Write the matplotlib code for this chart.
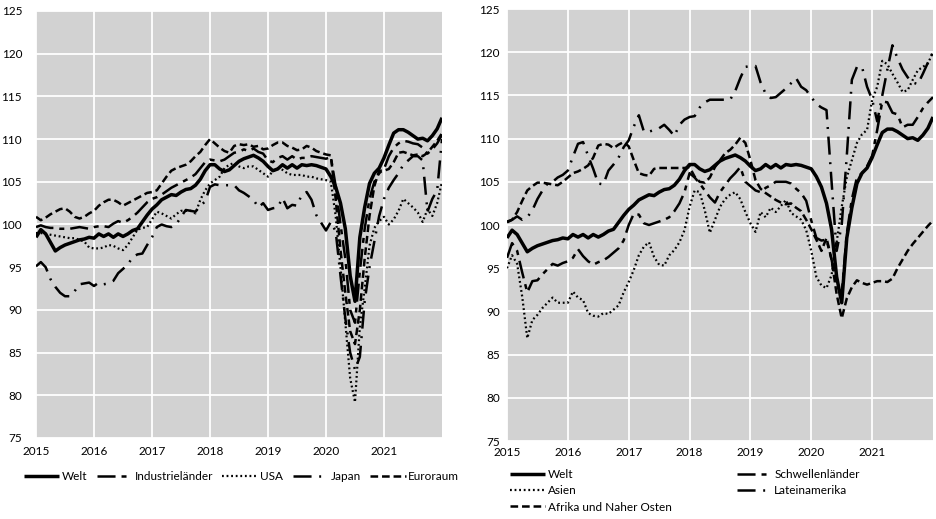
import matplotlib
matplotlib.use("Agg")
import matplotlib.pyplot as plt
import numpy as np

plt.rcParams['font.family'] = ['Lato', 'DejaVu Sans']
plt.rcParams['lines.scale_dashes'] = False

# Monthly, Jan 2015 .. Jan 2022
months = 2015 + np.arange(85) / 12.0
year_ticks = [2015, 2016, 2017, 2018, 2019, 2020, 2021]
y_ticks = [75, 80, 85, 90, 95, 100, 105, 110, 115, 120, 125]

welt = [98.5, 99.4, 98.9, 97.9, 96.9, 97.3, 97.6, 97.8, 98.0, 98.2, 98.3, 98.5,
        98.4, 98.9, 98.6, 98.9, 98.5, 98.9, 98.6, 98.9, 99.3, 99.5, 100.3, 101.1,
        101.8, 102.3, 102.9, 103.2, 103.5, 103.4, 103.8, 104.1, 104.2, 104.6, 105.3, 106.3,
        107.0, 107.0, 106.5, 106.2, 106.4, 106.9, 107.4, 107.7, 107.9, 108.1, 107.8, 107.4,
        106.8, 106.3, 106.5, 107.0, 106.6, 107.0, 106.6, 107.0, 106.9, 107.0, 106.9, 106.7,
        106.5, 105.6, 104.4, 102.5, 99.5, 94.0, 91.0, 98.5, 102.0, 104.8, 106.0, 106.6,
        107.8, 109.3, 110.7, 111.1, 111.1, 110.8, 110.4, 110.0, 110.1, 109.8, 110.4, 111.2,
        112.5]

industrielaender = [99.7, 99.9, 99.7, 99.6, 99.6, 99.5, 99.5, 99.5, 99.6, 99.7, 99.6, 99.5,
                    99.7, 99.8, 99.8, 99.7, 100.1, 100.4, 100.2, 100.5, 100.9, 101.4, 102.0, 102.6,
                    103.0, 103.2, 103.5, 103.9, 104.3, 104.6, 104.9, 105.2, 105.5, 105.9, 106.6, 107.3,
                    107.6, 107.5, 107.4, 107.6, 108.0, 108.4, 108.5, 108.8, 108.6, 108.9, 108.5, 108.3,
                    107.5, 107.3, 107.8, 108.0, 107.6, 108.0, 107.6, 107.8, 107.8, 108.0, 107.9, 107.8,
                    107.7, 107.9, 104.5, 100.0, 96.0, 90.0, 88.5, 94.5, 99.5, 103.0, 105.0, 106.0,
                    106.5, 108.0, 109.0, 109.5, 109.8, 109.7, 109.5, 109.4, 109.0, 108.3, 108.8, 109.5,
                    110.5]

usa = [99.0, 99.0, 98.9, 98.8, 98.7, 98.6, 98.5, 98.4, 98.4, 98.2, 98.0, 97.3,
       97.2, 97.2, 97.3, 97.6, 97.5, 97.2, 97.0, 97.6, 98.5, 99.4, 99.6, 99.7,
       100.6, 101.5, 101.3, 101.0, 100.7, 101.2, 101.6, 101.6, 101.6, 101.3, 102.9, 104.0,
       104.8, 105.2, 105.6, 106.6, 107.0, 107.2, 106.8, 106.6, 106.8, 106.8, 106.4, 106.0,
       105.6, 106.2, 106.6, 106.4, 106.0, 105.8, 105.8, 105.8, 105.6, 105.6, 105.4, 105.3,
       105.2, 105.0, 101.0, 95.0, 88.5, 82.0, 79.2, 88.0, 92.5, 97.5, 99.6, 100.4,
       100.9, 100.0, 100.6, 101.6, 103.0, 102.5, 102.0, 101.4, 100.3, 101.8, 101.0, 102.5,
       105.0]

japan = [95.1, 95.6, 95.0, 93.6, 92.7, 92.0, 91.6, 91.6, 92.2, 93.0, 93.1, 93.2,
         92.8, 93.2, 93.0, 93.1, 93.4, 94.3, 94.8, 95.3, 96.2, 96.5, 96.6, 97.6,
         98.5, 99.7, 100.0, 99.8, 99.7, 100.0, 100.9, 101.7, 101.6, 101.5, 102.2, 102.7,
         104.4, 104.7, 104.6, 104.6, 104.6, 104.6, 104.0, 103.7, 103.3, 102.9, 102.0, 102.5,
         101.7, 101.9, 102.0, 103.1, 101.9, 102.3, 102.2, 103.5, 103.8, 102.9, 101.1, 100.2,
         99.3, 100.3, 99.2, 94.0, 89.0, 85.0, 83.0, 84.5, 91.0, 95.0, 98.0, 101.0,
         103.0, 104.3, 105.2, 106.0, 107.0, 107.5, 108.0, 108.0, 107.5, 101.5, 103.0, 104.0,
         110.0]

euroraum = [100.9, 100.5, 100.8, 101.2, 101.5, 101.8, 101.9, 101.5, 100.9, 100.7, 100.9, 101.3,
            101.6, 102.2, 102.6, 102.9, 102.9, 102.6, 102.2, 102.5, 102.8, 103.1, 103.4, 103.7,
            103.8, 104.0, 104.8, 105.6, 106.3, 106.6, 106.8, 107.0, 107.4, 108.0, 108.5, 109.3,
            110.0, 109.5, 109.0, 108.6, 108.4, 109.2, 109.4, 109.3, 109.4, 109.1, 109.2, 108.8,
            108.9, 109.3, 109.6, 109.6, 109.2, 109.0, 108.7, 108.8, 109.2, 109.0, 108.6, 108.4,
            108.2, 108.1, 103.0, 97.0, 92.0, 87.5, 86.0, 90.0, 96.0, 101.0, 104.5, 106.3,
            106.3, 106.5, 107.3, 108.4, 108.5, 108.3, 108.1, 108.2, 108.0, 108.4, 109.1, 109.8,
            110.7]

schwellenlaender = [96.2, 97.9, 97.0, 94.5, 92.2, 93.5, 93.6, 94.3, 94.9, 95.5, 95.3, 95.6,
                    95.8, 96.2, 97.2, 96.4, 95.8, 95.4, 95.7, 95.9, 96.3, 96.8, 97.3, 98.2,
                    100.0, 101.3, 101.2, 100.2, 100.0, 100.2, 100.4, 100.6, 100.9, 101.6, 102.5, 103.8,
                    106.0, 105.5, 104.8, 104.0, 103.2, 102.6, 103.8, 104.6, 105.4, 106.0, 106.7, 105.0,
                    104.5, 104.0, 103.8, 104.3, 104.6, 105.0, 105.0, 105.0, 104.8, 104.2, 103.7, 102.8,
                    100.5, 98.5, 98.2, 98.3, 96.0, 93.0, 92.0, 99.0, 103.0, 105.5, 106.0, 106.8,
                    108.0, 111.0, 114.3, 114.2, 113.0, 112.8, 111.3, 111.6, 111.6, 112.5, 113.5, 114.2,
                    114.8]

asien = [95.0, 96.5, 95.5, 91.7, 86.9, 89.0, 89.6, 90.4, 91.0, 91.6, 91.0, 91.0,
         91.0, 92.3, 91.6, 91.3, 89.8, 89.5, 89.4, 89.8, 89.7, 90.2, 90.7, 92.2,
         93.4, 94.8, 96.5, 97.5, 98.0, 96.3, 95.4, 95.3, 96.5, 97.1, 98.0, 99.4,
         102.1, 104.0, 103.8, 101.7, 99.1, 100.6, 102.1, 103.0, 103.5, 103.8, 103.0, 101.5,
         100.2, 99.2, 101.5, 100.9, 102.0, 101.5, 102.2, 102.9, 101.4, 101.0, 100.6, 99.4,
         97.0, 94.0, 93.0, 92.7, 94.2, 98.0, 102.1, 105.5, 107.5, 109.5, 110.5, 111.0,
         114.5, 116.0, 119.0, 118.6, 117.5, 116.5, 115.4, 115.6, 116.8, 117.9, 118.3, 118.7,
         120.0]

lateinamerika = [100.3, 100.6, 101.0, 100.6, 100.9, 101.7, 103.0, 104.0, 104.8, 105.0, 105.5, 105.8,
                 106.3, 107.9, 109.4, 109.6, 108.0, 106.5, 104.8, 104.7, 106.3, 107.0, 107.8, 109.0,
                 109.8, 111.4, 112.7, 110.8, 110.8, 111.0, 111.2, 111.6, 111.0, 110.3, 111.6, 112.2,
                 112.5, 112.6, 113.6, 114.2, 114.5, 114.5, 114.5, 114.5, 114.5, 115.5, 117.0, 118.3,
                 118.4, 118.4, 116.5, 115.2, 114.7, 114.8, 115.3, 115.8, 116.4, 117.0, 116.0, 115.6,
                 114.8, 114.0, 113.6, 113.3, 105.0, 97.0, 100.0, 108.0, 116.8, 118.3, 118.3, 116.0,
                 114.5, 112.0, 115.0, 118.0, 120.8, 119.3, 118.0, 117.1, 116.5, 116.3, 117.5, 118.8,
                 120.0]

afrika = [100.4, 100.6, 101.5, 102.8, 104.0, 104.5, 104.9, 104.9, 104.8, 104.7, 104.6, 105.0,
          105.5, 106.0, 106.2, 106.5, 106.9, 107.8, 109.2, 109.4, 109.3, 108.9, 109.3, 109.6,
          109.1, 107.5, 106.0, 105.8, 105.7, 106.5, 106.6, 106.6, 106.6, 106.6, 106.6, 106.6,
          106.7, 105.6, 105.0, 104.9, 105.5, 106.7, 107.5, 108.3, 108.7, 109.3, 110.1, 109.5,
          107.5, 105.2, 104.2, 103.7, 103.3, 102.9, 102.6, 102.4, 102.5, 102.0, 101.6, 100.6,
          99.5, 98.3, 97.0, 98.5, 96.0, 92.0, 89.2, 91.5, 92.8, 93.6, 93.3, 93.1,
          93.3, 93.5, 93.5, 93.4, 93.8, 95.0, 96.0, 97.0, 97.8, 98.5, 99.2, 99.9,
          100.5]

# styles
S_WELT = dict(color='black', lw=2.5, ls='-', solid_capstyle='butt')
S_LONGSHORT = dict(color='black', lw=1.8, ls=(0, (13, 4.3, 3.6, 4.3)), dash_capstyle='butt')
S_DOT = dict(color='black', lw=1.6, ls=(0, (1.3, 2.0)), dash_capstyle='butt')
S_DASHDOT = dict(color='black', lw=1.8, ls=(0, (13, 5.5, 1.4, 5.5)), dash_capstyle='butt')
S_SHORT = dict(color='black', lw=1.8, ls=(0, (5.5, 2.8)), dash_capstyle='butt')

fig = plt.figure(figsize=(9.36, 5.19), dpi=100)
ax1 = fig.add_axes([36/936, 1-438/519, 406/936, 427/519])
ax2 = fig.add_axes([507/936, 1-441/519, 426/936, 432/519])

for ax in (ax1, ax2):
    ax.set_facecolor('#d2d2d2')
    ax.set_xlim(2015, 2022)
    ax.set_ylim(75, 125)
    ax.set_xticks(year_ticks)
    ax.set_xticklabels([str(y) for y in year_ticks])
    ax.set_yticks(y_ticks)
    ax.grid(True, color='white', lw=1.3)
    ax.set_axisbelow(True)
    for s in ax.spines.values():
        s.set_visible(False)
    ax.tick_params(length=0, labelsize=8.5, colors='black')
ax1.tick_params(axis='y', pad=10)
ax2.tick_params(axis='y', pad=5)
ax1.tick_params(axis='x', pad=6)
ax2.tick_params(axis='x', pad=4)

# left panel
l1 = ax1.plot(months, welt, label='Welt', zorder=6, **S_WELT)
l2 = ax1.plot(months, industrielaender, label='Industrieländer', zorder=5, **S_LONGSHORT)
l3 = ax1.plot(months, usa, label='USA', zorder=4, **S_DOT)
l4 = ax1.plot(months, japan, label='Japan', zorder=4, **S_DASHDOT)
l5 = ax1.plot(months, euroraum, label='Euroraum', zorder=4, **S_SHORT)

fig.legend(handles=[l1[0], l2[0], l3[0], l4[0], l5[0]],
           loc='center left', bbox_to_anchor=(24/936, 1-477/519), ncol=5,
           frameon=False, fontsize=8.5, handlelength=3.0, handletextpad=0.2,
           columnspacing=0.8, borderpad=0, borderaxespad=0)

# right panel
r1 = ax2.plot(months, welt, label='Welt', zorder=6, **S_WELT)
r2 = ax2.plot(months, schwellenlaender, label='Schwellenländer', zorder=5, **S_LONGSHORT)
r3 = ax2.plot(months, asien, label='Asien', zorder=4, **S_DOT)
r4 = ax2.plot(months, lateinamerika, label='Lateinamerika', zorder=4, **S_DASHDOT)
r5 = ax2.plot(months, afrika, label='Afrika und Naher Osten', zorder=4, **S_SHORT)

fig.legend(handles=[r1[0], r3[0], r5[0], r2[0], r4[0]],
           loc='upper left', bbox_to_anchor=(510/936, 1-469/519), ncol=2,
           frameon=False, fontsize=8.5, handlelength=3.0, handletextpad=0.2,
           columnspacing=5.5, labelspacing=0.45, borderpad=0, borderaxespad=0)

fig.savefig('out.png', dpi=100)
